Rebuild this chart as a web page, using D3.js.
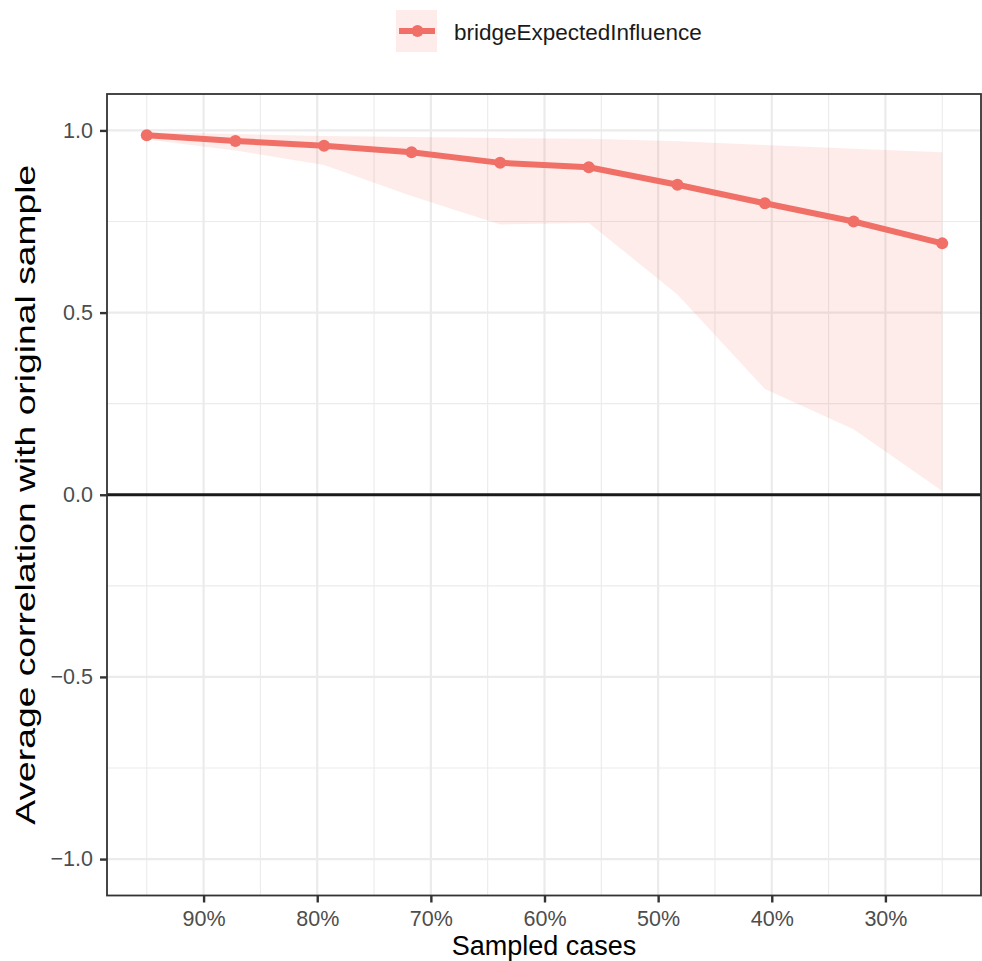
<!DOCTYPE html>
<html>
<head>
<meta charset="utf-8">
<script src="https://cdn.jsdelivr.net/npm/d3@7"></script>
<style>
  body { margin: 0; background: #fff; }
  svg { display: block; font-family: "Liberation Sans", Arial, Helvetica, sans-serif; }
</style>
</head>
<body>
<svg id="chart" width="982" height="961"></svg>
<script>
(function () {
  'use strict';

  // sampled proportion of cases (x), mean correlation and ribbon bounds
  const sampled = [0.95, 0.872, 0.794, 0.717, 0.639, 0.561, 0.483, 0.406, 0.328, 0.25];
  const meanCor = [0.987, 0.971, 0.958, 0.940, 0.911, 0.899, 0.851, 0.800, 0.750, 0.690];
  const lowerCor = [0.975, 0.945, 0.905, 0.820, 0.742, 0.746, 0.550, 0.290, 0.180, 0.010];
  const upperCor = [0.995, 0.990, 0.985, 0.982, 0.979, 0.977, 0.970, 0.960, 0.950, 0.940];

  const xTicks = [0.9, 0.8, 0.7, 0.6, 0.5, 0.4, 0.3];
  const xMinor = [0.95, 0.85, 0.75, 0.65, 0.55, 0.45, 0.35, 0.25];
  const yTicks = [-1, -0.5, 0, 0.5, 1];
  const yMinor = [-0.75, -0.25, 0.25, 0.75];
  const seriesName = 'bridgeExpectedInfluence';

  const COLORS = {
    line: '#F07068',
    ribbon: '#F8766D',
    grid: '#EBEBEB',
    border: '#333333',
    tickText: '#4D4D4D',
  };

  const panel = { left: 107, right: 981, top: 94, bottom: 895.5 };

  const data = sampled.map((s, i) => ({ s, m: meanCor[i], lo: lowerCor[i], hi: upperCor[i] }));

  const x = d3.scaleLinear().domain([0.985, 0.215]).range([panel.left, 982]);
  const y = d3.scaleLinear().domain([-1.1, 1.1]).range([panel.bottom, panel.top]);

  const svg = d3.select('#chart');

  const grid = svg.append('g');

  // Minor grid
  grid.selectAll('.xminor').data(xMinor).enter().append('line')
    .attr('x1', d => x(d)).attr('x2', d => x(d))
    .attr('y1', panel.top).attr('y2', panel.bottom)
    .attr('stroke', COLORS.grid).attr('stroke-width', 1.1);
  grid.selectAll('.yminor').data(yMinor).enter().append('line')
    .attr('y1', d => y(d)).attr('y2', d => y(d))
    .attr('x1', panel.left).attr('x2', panel.right)
    .attr('stroke', COLORS.grid).attr('stroke-width', 1.1);

  // Major grid
  grid.selectAll('.xmajor').data(xTicks).enter().append('line')
    .attr('x1', d => x(d)).attr('x2', d => x(d))
    .attr('y1', panel.top).attr('y2', panel.bottom)
    .attr('stroke', COLORS.grid).attr('stroke-width', 2.2);
  grid.selectAll('.ymajor').data(yTicks).enter().append('line')
    .attr('y1', d => y(d)).attr('y2', d => y(d))
    .attr('x1', panel.left).attr('x2', panel.right)
    .attr('stroke', COLORS.grid).attr('stroke-width', 2.2);

  // Ribbon
  const area = d3.area()
    .x(d => x(d.s))
    .y0(d => y(d.lo))
    .y1(d => y(d.hi));
  svg.append('path')
    .datum(data)
    .attr('d', area)
    .attr('fill', COLORS.ribbon)
    .attr('fill-opacity', 0.14);

  // Zero line
  svg.append('line')
    .attr('x1', panel.left).attr('x2', panel.right)
    .attr('y1', y(0)).attr('y2', y(0))
    .attr('stroke', '#1a1a1a').attr('stroke-width', 2.8);

  // Mean line + points
  const line = d3.line().x(d => x(d.s)).y(d => y(d.m));
  svg.append('path')
    .datum(data)
    .attr('d', line)
    .attr('fill', 'none')
    .attr('stroke', COLORS.line)
    .attr('stroke-width', 6)
    .attr('stroke-linejoin', 'round');
  svg.append('g').selectAll('circle').data(data).enter().append('circle')
    .attr('cx', d => x(d.s)).attr('cy', d => y(d.m))
    .attr('r', 6)
    .attr('fill', COLORS.line);

  // Panel border
  svg.append('rect')
    .attr('x', panel.left).attr('y', panel.top)
    .attr('width', panel.right - panel.left).attr('height', panel.bottom - panel.top)
    .attr('fill', 'none')
    .attr('stroke', COLORS.border).attr('stroke-width', 1.8);

  // Axes
  const xAxis = d3.axisBottom(x)
    .tickValues(xTicks)
    .tickFormat(d => Math.round(d * 100) + '%')
    .tickSize(7).tickPadding(8);
  const gx = svg.append('g')
    .attr('transform', `translate(0,${panel.bottom})`)
    .call(xAxis);
  gx.select('.domain').remove();
  gx.selectAll('line').attr('stroke', COLORS.border).attr('stroke-width', 2.4);
  gx.selectAll('text').attr('fill', COLORS.tickText).attr('font-size', 21.5)
    .attr('font-family', '"Liberation Sans", Arial, sans-serif');

  const yAxis = d3.axisLeft(y)
    .tickValues(yTicks)
    .tickFormat(d => d < 0 ? '\u2212' + Math.abs(d).toFixed(1) : d.toFixed(1))
    .tickSize(7).tickPadding(7);
  const gy = svg.append('g')
    .attr('transform', `translate(${panel.left},0)`)
    .call(yAxis);
  gy.select('.domain').remove();
  gy.selectAll('line').attr('stroke', COLORS.border).attr('stroke-width', 2.4);
  gy.selectAll('text').attr('fill', COLORS.tickText).attr('font-size', 21.5)
    .attr('font-family', '"Liberation Sans", Arial, sans-serif');

  // Axis titles
  svg.append('text')
    .attr('x', (panel.left + panel.right) / 2)
    .attr('y', 955)
    .attr('text-anchor', 'middle')
    .attr('font-size', 27)
    .attr('fill', '#000')
    .text('Sampled cases');

  svg.append('text')
    .attr('transform', `translate(35,${(panel.top + panel.bottom) / 2}) rotate(-90)`)
    .attr('text-anchor', 'middle')
    .attr('font-size', 27)
    .attr('textLength', 660)
    .attr('lengthAdjust', 'spacingAndGlyphs')
    .attr('fill', '#000')
    .text('Average correlation with original sample');

  // Legend
  const legend = svg.append('g').attr('transform', 'translate(396,10)');
  legend.append('rect')
    .attr('width', 41).attr('height', 42)
    .attr('fill', COLORS.ribbon).attr('fill-opacity', 0.14);
  legend.append('line')
    .attr('x1', 3).attr('x2', 39).attr('y1', 21).attr('y2', 21)
    .attr('stroke', COLORS.line).attr('stroke-width', 6);
  legend.append('circle')
    .attr('cx', 21.5).attr('cy', 21).attr('r', 6)
    .attr('fill', COLORS.line);
  legend.append('text')
    .attr('x', 58).attr('y', 29.5)
    .attr('font-size', 22.5)
    .attr('fill', '#1a1a1a')
    .text(seriesName);
})();
</script>
</body>
</html>
